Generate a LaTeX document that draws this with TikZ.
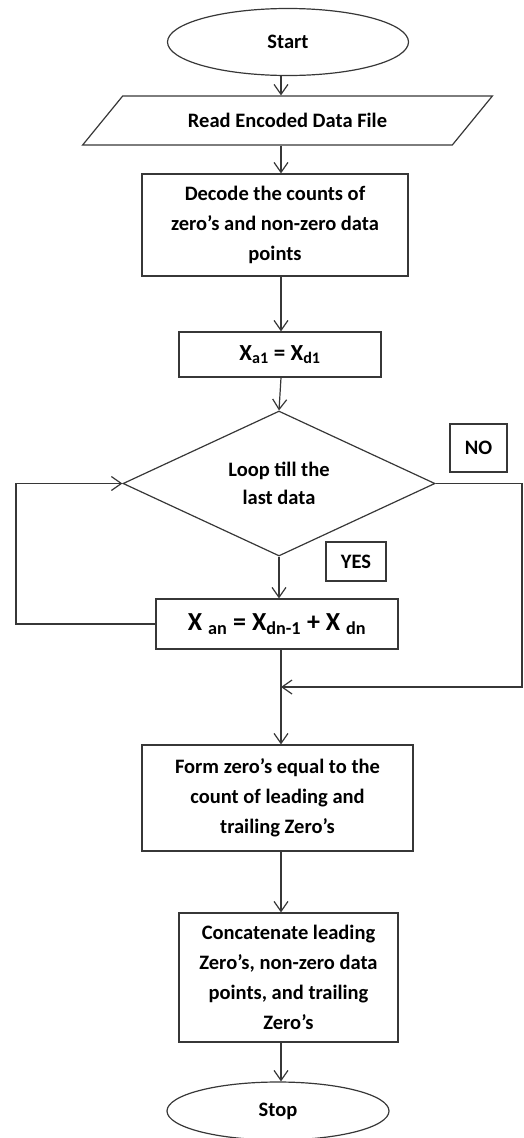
\documentclass[tikz,border=0pt]{standalone}
\usepackage{fontspec}
\setmainfont{Carlito}
\usepackage{tikz}
\usetikzlibrary{shapes.geometric, arrows.meta}
\definecolor{inkgray}{RGB}{55,55,55}
\tikzset{
  flowterm/.style={draw=inkgray, line width=1.2pt, ellipse, inner sep=0pt,
    font=\fontsize{20.5}{28}\selectfont\bfseries},
  flowio/.style={draw=inkgray, line width=1.2pt, trapezium, trapezium left angle=31,
    trapezium right angle=149, trapezium stretches=true, inner sep=0pt,
    font=\fontsize{20.5}{28}\selectfont\bfseries},
  flowbox/.style={draw=inkgray, line width=1.2pt, align=center, inner sep=0pt,
    font=\fontsize{20.5}{30}\selectfont\bfseries},
  flowdec/.style={draw=inkgray, line width=1.2pt, diamond, aspect=2.15, inner sep=0pt,
    align=center, font=\fontsize{20.5}{28}\selectfont\bfseries},
  flowtag/.style={draw=inkgray, line width=1.2pt, inner sep=0pt,
    font=\fontsize{20.5}{28}\selectfont\bfseries},
  flowarrow/.style={draw=inkgray, line width=1.2pt, -{Straight Barb[length=10pt, width=14pt]}}
}

\begin{document}
\begin{tikzpicture}[x=1pt, y=-1pt]
  \useasboundingbox (0,0) rectangle (524,1138);
  \node[flowterm, minimum width=241pt, minimum height=67pt] (start) at (288,42) {Start};
  \node[flowio, minimum width=411pt, minimum height=49pt] (read) at (287.5,120.5) {Read Encoded Data File};
  \node[flowbox, minimum width=266pt, minimum height=102pt] (decode) at (275,225)
    {Decode the counts of\\zero’s and non-zero data\\points};
  \node[flowbox, minimum width=202pt, minimum height=45pt, font=\fontsize{23}{28}\selectfont\bfseries] (xa1) at (280,354.5)
    {X\textsubscript{a1} = X\textsubscript{d1}};
  \node[flowdec, minimum width=312pt, minimum height=145pt] (loop) at (279,483.5)
    {Loop till the\\last data};
  \node[flowtag, minimum width=57pt, minimum height=48pt] (no) at (478.5,448) {NO};
  \node[flowtag, minimum width=60pt, minimum height=39pt] (yes) at (356,561.5) {YES};
  \node[flowbox, minimum width=242pt, minimum height=50pt, font=\fontsize{26}{30}\selectfont\bfseries] (xan) at (277,624)
    {X \textsubscript{an} = X\textsubscript{dn-1} + X \textsubscript{dn}};
  \node[flowbox, minimum width=271pt, minimum height=106pt] (form) at (277.5,798)
    {Form zero’s equal to the\\count of leading and\\trailing Zero’s};
  \node[flowbox, minimum width=219pt, minimum height=129pt] (concat) at (288.5,977.5)
    {Concatenate leading\\Zero’s, non-zero data\\points, and trailing\\Zero’s};
  \node[flowterm, minimum width=222pt, minimum height=58pt] (stop) at (278,1111) {Stop};
  \coordinate (axis) at (281,0);
  \coordinate (back) at (16,0);
  \coordinate (edge) at (522,0);
  \coordinate (merge) at (281,687);
  \draw[flowarrow] (start.south -| axis) -- (read.north -| axis);
  \draw[flowarrow] (read.south -| axis) -- (decode.north -| axis);
  \draw[flowarrow] (decode.south -| axis) -- (xa1.north -| axis);
  \draw[flowarrow] (xa1.south -| axis) -- (loop.north);
  \draw[flowarrow] (loop.south) -- (xan.north -| loop.south);
  \draw[flowarrow] (xan.west) -- (xan.west -| back) |- (loop.west);
  \draw[flowarrow] (loop.east) -- (loop.east -| edge) |- (merge);
  \draw[flowarrow] (xan.south -| axis) -- (form.north -| axis);
  \draw[flowarrow] (form.south -| axis) -- (concat.north -| axis);
  \draw[flowarrow] (concat.south -| axis) -- (stop.north -| axis);
\end{tikzpicture}
\end{document}
